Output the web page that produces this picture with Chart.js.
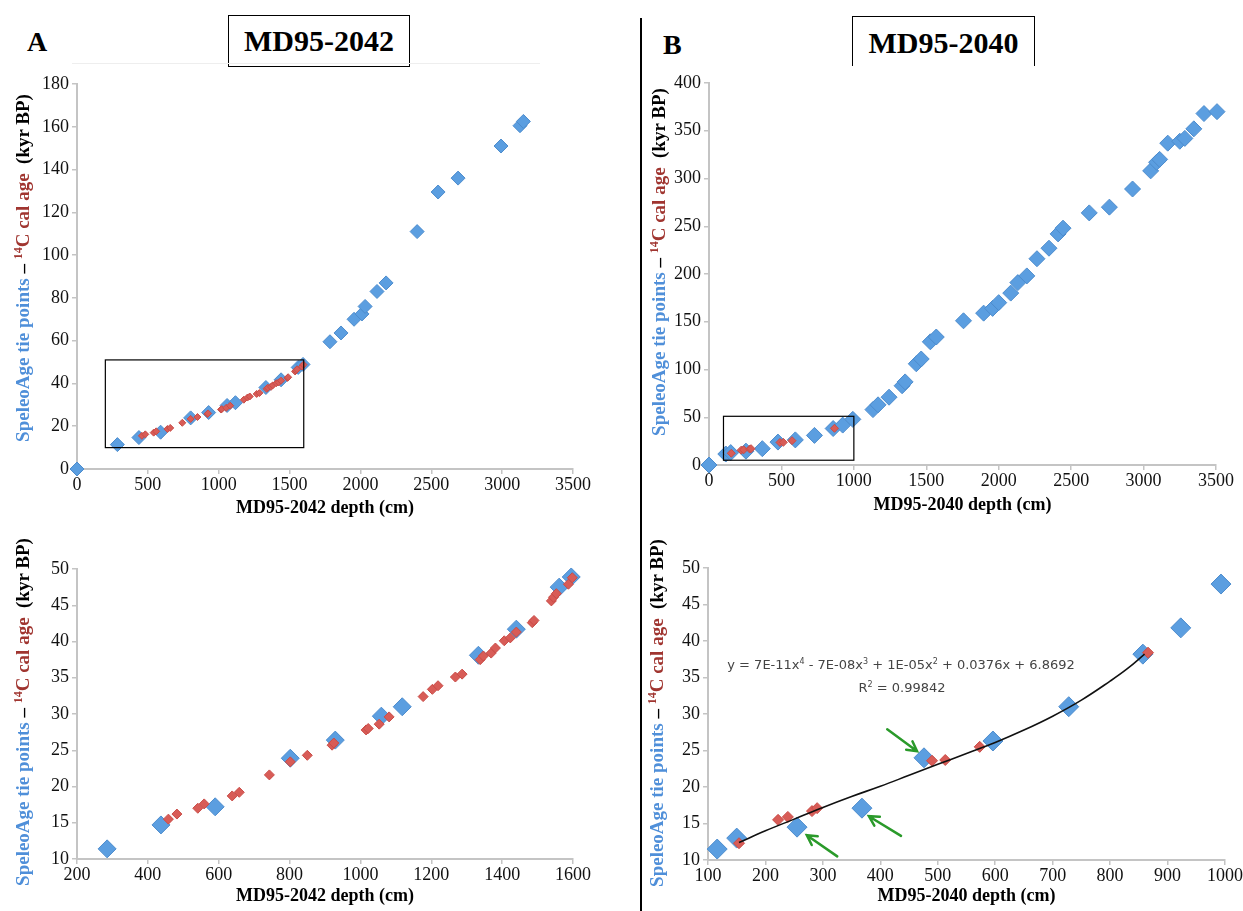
<!DOCTYPE html>
<html>
<head>
<meta charset="utf-8">
<script src="https://cdn.jsdelivr.net/npm/chart.js@4/dist/chart.umd.min.js"></script>
<style>
    body { margin: 0; background: #fff; width: 1243px; height: 911px; position: relative; overflow: hidden; font-family: "Liberation Serif", serif; }
    canvas { position: absolute; }
    .letter { position: absolute; font-weight: bold; font-size: 28px; }
    .headbox { position: absolute; border: 1.5px solid #000; font-weight: bold; font-size: 30px; text-align: center; box-sizing: border-box; }
    .divider { position: absolute; left: 640px; top: 18px; width: 1.5px; height: 893px; background: #000; }
    .ytitle { position: absolute; transform: translate(-50%, -50%) rotate(-90deg); white-space: nowrap; font-weight: bold; font-size: 19px; z-index: 2; }
    .ytitle .blue { color: #4f8fd9; }
    .ytitle .red { color: #a03530; }
    .ytitle sup { font-size: 12px; vertical-align: 7px; line-height: 0; }
    .eq { position: absolute; font-family: "DejaVu Sans", sans-serif; font-size: 13px; color: #444; white-space: nowrap; transform: translate(-50%, -50%); z-index: 2; }
    .eq sup { font-size: 8px; vertical-align: 5px; line-height: 0; }
</style>
</head>
<body>

<div class="letter" style="left:27px; top:26px;">A</div>
<div class="headbox" style="left:228px; top:15px; width:182px; height:52px; line-height:49px;">MD95-2042</div>
<div style="position:absolute; left:72px; top:63px; width:468px; height:1px; background:#eee;"></div>

<div class="letter" style="left:663px; top:29px;">B</div>
<div class="headbox" style="left:852px; top:16px; width:183px; height:50px; line-height:52px; border-bottom:none;">MD95-2040</div>

<div class="divider"></div>

<div class="ytitle" style="left:23px; top:268px;"><span class="blue">SpeleoAge tie points</span> – <span class="red"><sup>14</sup>C cal age</span>&nbsp; (kyr BP)</div>
<div class="ytitle" style="left:23px; top:712px;"><span class="blue">SpeleoAge tie points</span> – <span class="red"><sup>14</sup>C cal age</span>&nbsp; (kyr BP)</div>
<div class="ytitle" style="left:659px; top:262px;"><span class="blue">SpeleoAge tie points</span> – <span class="red"><sup>14</sup>C cal age</span>&nbsp; (kyr BP)</div>
<div class="ytitle" style="left:657px; top:713px;"><span class="blue">SpeleoAge tie points</span> – <span class="red"><sup>14</sup>C cal age</span>&nbsp; (kyr BP)</div>

<div class="eq" style="left:901px; top:664px;">y = 7E-11x<sup>4</sup> - 7E-08x<sup>3</sup> + 1E-05x<sup>2</sup> + 0.0376x + 6.8692</div>
<div class="eq" style="left:902px; top:687px;">R<sup>2</sup> = 0.99842</div>

<canvas id="a-top"></canvas>
<canvas id="a-bottom"></canvas>
<canvas id="b-top"></canvas>
<canvas id="b-bottom"></canvas>

<script>
// Panel A - MD95-2042 (depth in cm, age in kyr BP)
const aBlueDepth = [0, 285, 437, 590, 802, 929, 1059, 1118, 1333, 1440, 1561, 1595, 1785, 1863, 1955, 2011, 2033, 2117, 2181, 2400, 2548, 2689, 2992, 3126, 3150];
const aBlueAge = [0, 11.4, 14.7, 17.2, 23.9, 26.4, 29.7, 31.0, 38.1, 41.7, 47.5, 48.9, 59.5, 63.6, 70.0, 72.5, 76.0, 83.0, 87.0, 111.0, 129.5, 136.0, 151.0, 160.5, 162.5];
const aRedDepth = [458, 482, 541, 559, 638, 658, 743, 802, 850, 920, 925, 1016, 1022, 1053, 1081, 1177, 1203, 1219, 1268, 1287, 1338, 1347, 1369, 1381, 1406, 1423, 1440, 1485, 1490, 1539, 1545, 1553, 1587, 1598];
const aRedAge = [15.5, 16.2, 17.0, 17.6, 18.7, 19.2, 21.6, 23.4, 24.3, 25.7, 26.0, 27.8, 28.0, 28.6, 29.6, 32.4, 33.4, 33.9, 35.1, 35.5, 37.5, 38.0, 38.4, 39.1, 40.1, 40.5, 41.3, 42.6, 42.9, 45.6, 46.1, 46.6, 47.9, 48.8];

// Panel B - MD95-2040
const bBlueDepth = [0, 116, 150, 255, 368, 476, 596, 728, 857, 923, 993, 1132, 1167, 1243, 1333, 1354, 1431, 1465, 1528, 1569, 1757, 1896, 1958, 2000, 2083, 2132, 2194, 2264, 2347, 2410, 2444, 2625, 2764, 2924, 3049, 3090, 3111, 3167, 3250, 3285, 3347, 3417, 3507];
const bBlueAge = [0, 11.5, 13.0, 14.5, 17.1, 24.0, 26.3, 31.0, 38.2, 41.8, 47.8, 58, 63, 71, 83, 87, 106, 111, 129, 134, 151, 159, 164, 170, 180, 191, 198, 216, 227, 242, 248, 264, 270, 289, 308, 317, 320, 337, 339, 342, 352, 368, 370];
const bRedDepth = [154, 222, 239, 281, 290, 490, 513, 573, 866];
const bRedAge = [12.3, 15.5, 15.9, 16.7, 17.1, 23.6, 23.7, 25.5, 38.4];

// polynomial trend line of panel B
const bTrendDepth = [154, 200, 250, 300, 350, 400, 450, 500, 550, 600, 650, 700, 750, 800, 830, 860];
const bTrendAge = [12.4, 14.0, 15.6, 17.2, 18.7, 20.1, 21.6, 23.1, 24.6, 26.1, 27.8, 29.7, 31.9, 34.5, 36.2, 38.2];

// green arrows (data coords: from -> to)
const bArrowFrom = [[412, 27.9], [436, 13.3], [325, 10.5]];
const bArrowTo = [[464, 24.9], [380, 16.0], [272, 13.4]];

// zoom boxes drawn in the top panels [x1, y1, x2, y2]
const aInsetBox = [200, 10, 1600, 51];
const bInsetBox = [100, 5, 1000, 51];

// tick labels
const topDepthTicks = [0, 500, 1000, 1500, 2000, 2500, 3000, 3500];
const aTopAgeTicks = [0, 20, 40, 60, 80, 100, 120, 140, 160, 180];
const bTopAgeTicks = [0, 50, 100, 150, 200, 250, 300, 350, 400];
const aBottomDepthTicks = [200, 400, 600, 800, 1000, 1200, 1400, 1600];
const bBottomDepthTicks = [100, 200, 300, 400, 500, 600, 700, 800, 900, 1000];
const bottomAgeTicks = [10, 15, 20, 25, 30, 35, 40, 45, 50];

const BLUE = '#5b9ee0';
const BLUE_EDGE = '#4d8ccd';
const RED = '#d85c57';
const RED_EDGE = '#c94c47';

// keep only the points that fall in the panel (small tolerance at the edges)
function toPoints(xs, ys, xr, yr) {
    const tx = (xr[1] - xr[0]) * 0.01, ty = (yr[1] - yr[0]) * 0.01;
    return xs.map((x, i) => ({ x: x, y: ys[i] }))
        .filter(p => p.x >= xr[0] - tx && p.x <= xr[1] + tx && p.y >= yr[0] - ty && p.y <= yr[1] + ty);
}

// boxes + arrows on top of the data
const overlayPlugin = {
    id: 'overlay',
    afterDatasetsDraw(chart, args, opts) {
        const ctx = chart.ctx;
        const xs = chart.scales.x;
        const ys = chart.scales.y;
        ctx.save();
        if (opts.box) {
            const b = opts.box;
            const x1 = xs.getPixelForValue(b[0]), y1 = ys.getPixelForValue(b[3]);
            const x2 = xs.getPixelForValue(b[2]), y2 = ys.getPixelForValue(b[1]);
            ctx.strokeStyle = '#000';
            ctx.lineWidth = 1.2;
            ctx.strokeRect(x1, y1, x2 - x1, y2 - y1);
        }
        if (opts.arrowsFrom) {
            ctx.strokeStyle = '#2a9a2a';
            ctx.lineWidth = 2.5;
            ctx.lineCap = 'round';
            opts.arrowsFrom.forEach((from, i) => {
                const to = opts.arrowsTo[i];
                const fx = xs.getPixelForValue(from[0]), fy = ys.getPixelForValue(from[1]);
                const tx = xs.getPixelForValue(to[0]), ty = ys.getPixelForValue(to[1]);
                const ang = Math.atan2(ty - fy, tx - fx);
                const head = 11;
                ctx.beginPath();
                ctx.moveTo(fx, fy);
                ctx.lineTo(tx, ty);
                ctx.moveTo(tx - head * Math.cos(ang - 0.5), ty - head * Math.sin(ang - 0.5));
                ctx.lineTo(tx, ty);
                ctx.lineTo(tx - head * Math.cos(ang + 0.5), ty - head * Math.sin(ang + 0.5));
                ctx.stroke();
            });
        }
        ctx.restore();
    }
};

function makePanel(id, cfg) {
    const canvas = document.getElementById(id);
    const yAxisW = 70, padTop = 20, padRight = 24;
    const plotW = cfg.plot.right - cfg.plot.left;
    const plotH = cfg.plot.bottom - cfg.plot.top;
    canvas.style.left = (cfg.plot.left - yAxisW) + 'px';
    canvas.style.top = (cfg.plot.top - padTop) + 'px';
    canvas.width = plotW + yAxisW + padRight;
    canvas.height = plotH + padTop + cfg.xAxisH;

    const xr = [cfg.xTicks[0], cfg.xTicks[cfg.xTicks.length - 1]];
    const yr = [cfg.yTicks[0], cfg.yTicks[cfg.yTicks.length - 1]];

    const datasets = [{
        label: '14C cal age',
        data: toPoints(cfg.redX, cfg.redY, xr, yr),
        pointStyle: 'rectRot',
        pointRadius: cfg.redR,
        backgroundColor: RED,
        borderColor: RED_EDGE,
        borderWidth: 1,
        clip: false,
        order: 1
    }, {
        label: 'SpeleoAge tie points',
        data: toPoints(cfg.blueX, cfg.blueY, xr, yr),
        pointStyle: 'rectRot',
        pointRadius: cfg.blueR,
        backgroundColor: BLUE,
        borderColor: BLUE_EDGE,
        borderWidth: 1,
        clip: false,
        order: 2
    }];
    if (cfg.trendX) {
        datasets.push({
            label: 'trend',
            data: cfg.trendX.map((x, i) => ({ x: x, y: cfg.trendY[i] })),
            showLine: true,
            pointRadius: 0,
            borderColor: '#111',
            borderWidth: 1.6,
            tension: 0.4,
            order: 0
        });
    }

    const axisCommon = {
        type: 'linear',
        border: { color: '#c4c4c4', width: 2 },
        grid: { drawOnChartArea: false, color: '#c4c4c4', tickLength: 5, lineWidth: 1.5 },
    };
    const tickFont = { family: 'Liberation Serif', size: 18 };

    new Chart(canvas, {
        type: 'scatter',
        data: { datasets: datasets },
        options: {
            responsive: false,
            animation: false,
            layout: { padding: { top: padTop, right: padRight, left: 0, bottom: 0 } },
            plugins: {
                legend: { display: false },
                tooltip: { enabled: false },
                overlay: { box: cfg.box, arrowsFrom: cfg.arrowsFrom, arrowsTo: cfg.arrowsTo }
            },
            scales: {
                x: {
                    ...axisCommon,
                    position: 'bottom',
                    min: xr[0],
                    max: xr[1],
                    afterBuildTicks: s => { s.ticks = cfg.xTicks.map(v => ({ value: v })); },
                    afterFit: s => { s.height = cfg.xAxisH; },
                    ticks: { color: '#111', font: tickFont, padding: 0, maxRotation: 0, callback: v => String(v) },
                    title: {
                        display: true,
                        text: cfg.xTitle,
                        color: '#000',
                        font: { family: 'Liberation Serif', size: 18, weight: 'bold' },
                        padding: { top: 0, bottom: 0 }
                    }
                },
                y: {
                    ...axisCommon,
                    min: yr[0],
                    max: yr[1],
                    afterBuildTicks: s => { s.ticks = cfg.yTicks.map(v => ({ value: v })); },
                    afterFit: s => { s.width = yAxisW; },
                    ticks: { color: '#111', font: tickFont, padding: 3, callback: v => String(v) }
                }
            }
        },
        plugins: [overlayPlugin]
    });
}

makePanel('a-top', {
    plot: { left: 77, right: 573, top: 84, bottom: 469 }, xAxisH: 50,
    xTicks: topDepthTicks, yTicks: aTopAgeTicks, xTitle: 'MD95-2042 depth (cm)',
    blueX: aBlueDepth, blueY: aBlueAge, redX: aRedDepth, redY: aRedAge,
    blueR: 7, redR: 3.5, box: aInsetBox
});

makePanel('a-bottom', {
    plot: { left: 77, right: 573, top: 569, bottom: 859 }, xAxisH: 48,
    xTicks: aBottomDepthTicks, yTicks: bottomAgeTicks, xTitle: 'MD95-2042 depth (cm)',
    blueX: aBlueDepth, blueY: aBlueAge, redX: aRedDepth, redY: aRedAge,
    blueR: 9, redR: 5
});

makePanel('b-top', {
    plot: { left: 709, right: 1216, top: 83, bottom: 465 }, xAxisH: 51,
    xTicks: topDepthTicks, yTicks: bTopAgeTicks, xTitle: 'MD95-2040 depth (cm)',
    blueX: bBlueDepth, blueY: bBlueAge, redX: bRedDepth, redY: bRedAge,
    blueR: 8, redR: 4, box: bInsetBox
});

makePanel('b-bottom', {
    plot: { left: 708, right: 1225, top: 568, bottom: 860 }, xAxisH: 47,
    xTicks: bBottomDepthTicks, yTicks: bottomAgeTicks, xTitle: 'MD95-2040 depth (cm)',
    blueX: bBlueDepth, blueY: bBlueAge, redX: bRedDepth, redY: bRedAge,
    blueR: 10, redR: 5.5,
    trendX: bTrendDepth, trendY: bTrendAge,
    arrowsFrom: bArrowFrom, arrowsTo: bArrowTo
});
</script>
</body>
</html>
